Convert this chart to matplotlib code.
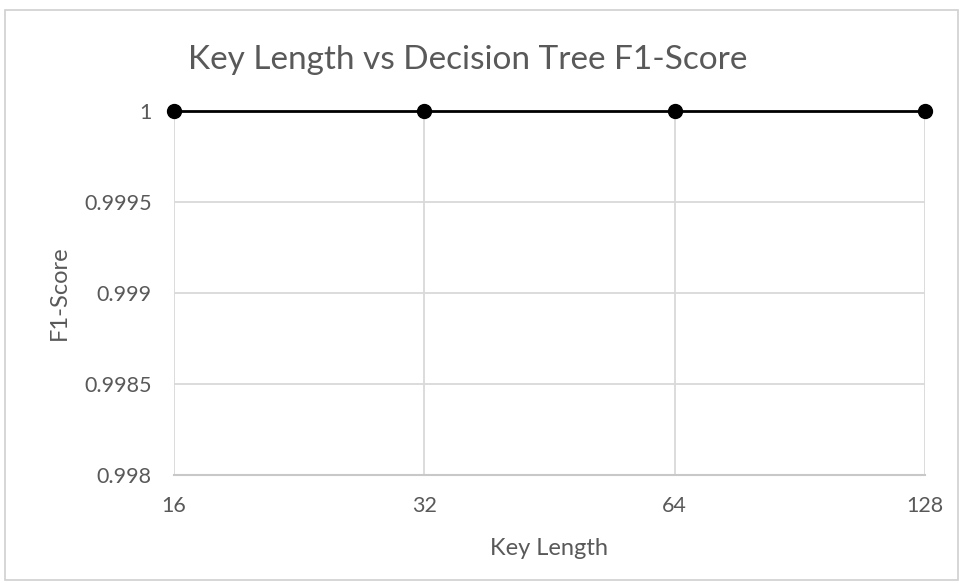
import matplotlib.pyplot as plt
from matplotlib.patches import Rectangle

key_lengths = ['16', '32', '64', '128']
f1_scores = [1.0, 1.0, 1.0, 1.0]
y_ticks = [0.998, 0.9985, 0.999, 0.9995, 1.0]

plt.rcParams['font.family'] = ['Lato', 'DejaVu Sans']
grey = '#595959'
grid = '#d9d9d9'

fig = plt.figure(figsize=(9.61, 5.83), dpi=100)
fig.patches.append(Rectangle((5 / 961, 3 / 583), 953 / 961, 570 / 583,
                             transform=fig.transFigure, fill=False,
                             edgecolor='#d0d0d0', linewidth=1.2))
ax = fig.add_axes([174 / 961, 1 - 475 / 583, 751 / 961, 364 / 583])

x = range(len(key_lengths))
ax.plot(x, f1_scores, color='black', linewidth=2, marker='o',
        markersize=10, clip_on=False, zorder=5)

ax.set_xlim(0, len(key_lengths) - 1)
ax.set_ylim(y_ticks[0], y_ticks[-1])
ax.set_xticks(list(x))
ax.set_xticklabels(key_lengths)
ax.set_yticks(y_ticks)
ax.set_yticklabels(['%g' % v for v in y_ticks])
ax.grid(True, color=grid, linewidth=1.3)
ax.set_axisbelow(True)
for s in ['top', 'right', 'left']:
    ax.spines[s].set_visible(False)
ax.spines['bottom'].set_color('#c8c8c8')
ax.spines['bottom'].set_linewidth(1.5)
ax.tick_params(length=0, labelsize=15.5, colors=grey)
ax.tick_params(axis='y', pad=16)
ax.tick_params(axis='x', pad=15)

ax.set_xlabel('Key Length', fontsize=17, color=grey, labelpad=16)
ax.set_ylabel('F1-Score', fontsize=17, color=grey, labelpad=10)
fig.text(468 / 961, 1 - 60 / 583, 'Key Length vs Decision Tree F1-Score',
         fontsize=24, color=grey, ha='center', va='center')

fig.savefig('out.png')
